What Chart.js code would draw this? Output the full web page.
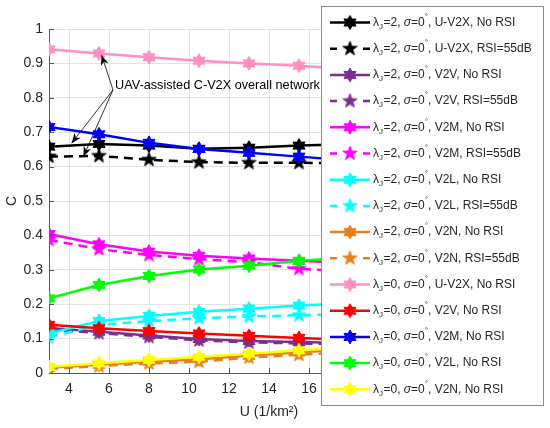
<!DOCTYPE html>
<html>
<head>
<meta charset="utf-8">
<script src="https://cdn.jsdelivr.net/npm/chart.js@4.4.1/dist/chart.umd.min.js"></script>
<style>
  html, body { margin: 0; padding: 0; background: #fff; }
  #wrap { width: 550px; height: 428px; }
</style>
</head>
<body>
<div id="wrap"><canvas id="myChart" width="550" height="428"></canvas></div>
<script>
// x values (U, 1/km^2)
const uValues = [3, 5.5, 8, 10.5, 13, 15.5, 18];

// lambda_J = 2 series
const uv2xNo2  = [0.658, 0.666, 0.661, 0.652, 0.655, 0.661, 0.665];
const uv2xRsi2 = [0.629, 0.631, 0.620, 0.613, 0.611, 0.611, 0.610];
const v2vNo2   = [0.131, 0.120, 0.109, 0.099, 0.093, 0.090, 0.087];
const v2vRsi2  = [0.127, 0.116, 0.105, 0.095, 0.089, 0.086, 0.083];
const v2mNo2   = [0.404, 0.374, 0.353, 0.341, 0.333, 0.326, 0.320];
const v2mRsi2  = [0.387, 0.360, 0.343, 0.331, 0.322, 0.303, 0.295];
const v2lNo2   = [0.115, 0.151, 0.166, 0.178, 0.187, 0.196, 0.203];
const v2lRsi2  = [0.104, 0.140, 0.151, 0.159, 0.164, 0.168, 0.171];
const v2nNo2   = [0.015, 0.024, 0.033, 0.040, 0.050, 0.060, 0.068];
const v2nRsi2  = [0.012, 0.020, 0.028, 0.033, 0.045, 0.053, 0.060];

// lambda_J = 0 series
const uv2xNo0 = [0.941, 0.929, 0.918, 0.908, 0.900, 0.893, 0.884];
const v2vNo0  = [0.140, 0.130, 0.122, 0.115, 0.108, 0.102, 0.097];
const v2mNo0  = [0.715, 0.694, 0.669, 0.651, 0.640, 0.629, 0.618];
const v2lNo0  = [0.217, 0.256, 0.282, 0.301, 0.312, 0.326, 0.335];
const v2nNo0  = [0.018, 0.028, 0.038, 0.047, 0.056, 0.066, 0.074];

// tick labels
const xTicks = [4, 6, 8, 10, 12, 14, 16, 18, 20, 22, 24];
const yTicks = [0, 0.1, 0.2, 0.3, 0.4, 0.5, 0.6, 0.7, 0.8, 0.9, 1];

// legend pieces
const lambdaJ   = [2, 2, 2, 2, 2, 2, 2, 2, 2, 2, 0, 0, 0, 0, 0];
const linkNames = ['U-V2X', 'U-V2X', 'V2V', 'V2V', 'V2M', 'V2M', 'V2L', 'V2L', 'V2N', 'V2N',
                   'U-V2X', 'V2V', 'V2M', 'V2L', 'V2N'];
const rsiLabels = ['No RSI', 'RSI=55dB', 'No RSI', 'RSI=55dB', 'No RSI', 'RSI=55dB', 'No RSI', 'RSI=55dB',
                   'No RSI', 'RSI=55dB', 'No RSI', 'No RSI', 'No RSI', 'No RSI', 'No RSI'];
const seriesValues = [uv2xNo2, uv2xRsi2, v2vNo2, v2vRsi2, v2mNo2, v2mRsi2, v2lNo2, v2lRsi2, v2nNo2, v2nRsi2,
                      uv2xNo0, v2vNo0, v2mNo0, v2lNo0, v2nNo0];
const seriesColors = ['#000000', '#000000', '#7E2F8E', '#7E2F8E', '#FF00FF', '#FF00FF', '#00FFFF', '#00FFFF',
                      '#E5801F', '#E5801F', '#FF8FC4', '#FF0000', '#0000FF', '#00FF00', '#FFFF00'];

const FONT = '"Liberation Sans", Arial, sans-serif';
const TXT = '#262626';

// star markers (hexagram for solid, pentagram for dashed)
function makeStar(color, points, outer, inner) {
  const size = Math.ceil(outer * 2 + 4);
  const c = document.createElement('canvas');
  c.width = c.height = size;
  const g = c.getContext('2d');
  g.translate(size / 2, size / 2);
  g.beginPath();
  for (let i = 0; i < points * 2; i++) {
    const r = i % 2 === 0 ? outer : inner;
    const a = -Math.PI / 2 + i * Math.PI / points;
    g.lineTo(r * Math.cos(a), r * Math.sin(a));
  }
  g.closePath();
  g.fillStyle = color;
  g.fill();
  g.lineWidth = 1;
  g.strokeStyle = color;
  g.stroke();
  return c;
}

const isDashed = rsiLabels.map(r => r !== 'No RSI');
const markers = seriesColors.map((c, i) => isDashed[i] ? makeStar(c, 5, 7.5, 3) : makeStar(c, 6, 7, 4));

const datasets = seriesValues.map((vals, i) => ({
  label: `λJ=${lambdaJ[i]}, σ=0°, ${linkNames[i]}, ${rsiLabels[i]}`,
  data: uValues.map((u, k) => ({ x: u, y: vals[k] })),
  borderColor: seriesColors[i],
  backgroundColor: seriesColors[i],
  borderWidth: 2.5,
  borderDash: isDashed[i] ? [9, 6] : [],
  pointStyle: markers[i],
  pointRadius: 7,
  pointHoverRadius: 7,
  tension: 0,
  order: seriesValues.length - i
}));

// small inward ticks like the original axes
const innerTicks = {
  id: 'innerTicks',
  afterDraw(chart) {
    const { ctx, chartArea: a, scales: { x, y } } = chart;
    ctx.save();
    ctx.strokeStyle = '#555';
    ctx.lineWidth = 1;
    ctx.beginPath();
    yTicks.forEach(v => { const py = Math.round(y.getPixelForValue(v)) + 0.5; ctx.moveTo(a.left, py); ctx.lineTo(a.left + 5, py); });
    xTicks.forEach(v => { const px = Math.round(x.getPixelForValue(v)) + 0.5; ctx.moveTo(px, a.bottom); ctx.lineTo(px, a.bottom - 5); });
    ctx.stroke();
    ctx.restore();
  }
};

// "UAV-assisted C-V2X overall network" text with three arrows
const arrowNote = {
  id: 'arrowNote',
  afterDatasetsDraw(chart) {
    const { ctx, scales: { x, y } } = chart;
    const from = [x.getPixelForValue(6.2), y.getPixelForValue(0.823)];
    const tips = [[5.63, 0.924], [4.13, 0.668], [4.72, 0.629]];
    ctx.save();
    ctx.strokeStyle = '#000';
    ctx.fillStyle = '#000';
    ctx.lineWidth = 0.8;
    tips.forEach(t => {
      const tx = x.getPixelForValue(t[0]), ty = y.getPixelForValue(t[1]);
      const ang = Math.atan2(ty - from[1], tx - from[0]);
      ctx.beginPath();
      ctx.moveTo(from[0], from[1]);
      ctx.lineTo(tx, ty);
      ctx.stroke();
      const L = 10, W = 4;
      ctx.beginPath();
      ctx.moveTo(tx, ty);
      ctx.lineTo(tx - L * Math.cos(ang) + W * Math.sin(ang), ty - L * Math.sin(ang) - W * Math.cos(ang));
      ctx.lineTo(tx - L * 0.7 * Math.cos(ang), ty - L * 0.7 * Math.sin(ang));
      ctx.lineTo(tx - L * Math.cos(ang) - W * Math.sin(ang), ty - L * Math.sin(ang) + W * Math.cos(ang));
      ctx.closePath();
      ctx.fill();
    });
    ctx.font = '12.7px ' + FONT;
    ctx.textBaseline = 'middle';
    ctx.textAlign = 'left';
    ctx.fillText('UAV-assisted C-V2X overall network', x.getPixelForValue(6.3), y.getPixelForValue(0.837));
    ctx.restore();
  }
};

// rich text: λ_J and degree superscript
function drawRich(ctx, parts, x, y) {
  parts.forEach(p => {
    const size = p.sub || p.sup ? 8 : 12;
    ctx.font = (p.it ? 'italic ' : '') + size + 'px ' + FONT;
    const dy = p.sub ? 4 : (p.sup ? -6 : 0);
    ctx.fillText(p.t, x, y + dy);
    x += ctx.measureText(p.t).width + (p.sub ? 0.5 : 0);
  });
}

// legend box drawn over the right part of the axes
const boxLegend = {
  id: 'boxLegend',
  afterDraw(chart) {
    const { ctx } = chart;
    const left = 321.5, top = 6.5, w = 222, h = 399;
    ctx.save();
    ctx.fillStyle = '#fff';
    ctx.fillRect(left, top, w, h);
    ctx.strokeStyle = '#8c8c8c';
    ctx.lineWidth = 1;
    ctx.strokeRect(left, top, w, h);
    ctx.textBaseline = 'middle';
    ctx.textAlign = 'left';
    chart.data.datasets.forEach((ds, i) => {
      const cy = 22.5 + i * 26.2;
      ctx.strokeStyle = ds.borderColor;
      ctx.lineWidth = 2.5;
      ctx.setLineDash([]);
      ctx.beginPath();
      if (isDashed[i]) {
        ctx.moveTo(330, cy); ctx.lineTo(337, cy);
        ctx.moveTo(363, cy); ctx.lineTo(370, cy);
      } else {
        ctx.moveTo(330, cy); ctx.lineTo(370, cy);
      }
      ctx.stroke();
      const m = markers[i];
      ctx.drawImage(m, 350 - m.width / 2, cy - m.height / 2);
      ctx.fillStyle = TXT;
      drawRich(ctx, [
        { t: 'λ' }, { t: 'J', sub: true }, { t: '=' + lambdaJ[i] + ', ' },
        { t: 'σ', it: true }, { t: '=0' }, { t: '°', sup: true },
        { t: ', ' + linkNames[i] + ', ' + rsiLabels[i] }
      ], 373, cy);
    });
    ctx.restore();
  }
};

const config = {
  type: 'line',
  data: { datasets },
  options: {
    responsive: false,
    animation: false,
    layout: { padding: { left: 0, top: 29, right: 61, bottom: 0 } },
    plugins: { legend: { display: false }, tooltip: { enabled: false } },
    scales: {
      x: {
        type: 'linear', min: 3, max: 25,
        afterBuildTicks: s => { s.ticks = xTicks.map(v => ({ value: v })); },
        afterFit: s => { s.height = 55; },
        grid: { color: '#e3e3e3', drawTicks: false },
        border: { color: '#555', width: 1 },
        ticks: { color: TXT, font: { family: FONT, size: 14 }, padding: 8, maxRotation: 0 },
        title: { display: true, text: 'U (1/km²)', color: TXT, font: { family: FONT, size: 14 }, padding: { top: 0, bottom: 7 } }
      },
      y: {
        min: 0, max: 1,
        afterBuildTicks: s => { s.ticks = yTicks.map(v => ({ value: v })); },
        afterFit: s => { s.width = 49; },
        grid: { color: '#e3e3e3', drawTicks: false },
        border: { color: '#555', width: 1 },
        ticks: { color: TXT, font: { family: FONT, size: 14 }, padding: 6, callback: v => String(+v.toFixed(1)) },
        title: { display: true, text: 'C', color: TXT, font: { family: FONT, size: 14 }, padding: { top: 4, bottom: 0 } }
      }
    }
  },
  plugins: [innerTicks, arrowNote, boxLegend]
};

const myChart = new Chart(document.getElementById('myChart'), config);
</script>
</body>
</html>
